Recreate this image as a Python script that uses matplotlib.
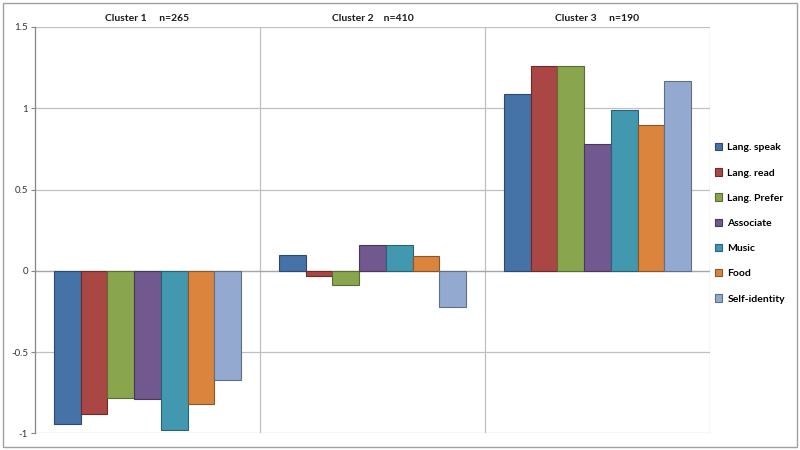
import numpy as np
import matplotlib.pyplot as plt
from matplotlib.patches import Rectangle

clusters = ['Cluster 1     n=265', 'Cluster 2    n=410', 'Cluster 3     n=190']
series = ['Lang. speak', 'Lang. read', 'Lang. Prefer', 'Associate', 'Music', 'Food', 'Self-identity']

lang_speak = [-0.94, 0.10, 1.09]
lang_read = [-0.88, -0.03, 1.26]
lang_prefer = [-0.78, -0.09, 1.26]
associate = [-0.79, 0.16, 0.78]
music = [-0.98, 0.16, 0.99]
food = [-0.82, 0.09, 0.90]
self_identity = [-0.67, -0.22, 1.17]

colors = ['#4572A7', '#AA4643', '#89A54E', '#71588F', '#4198AF', '#DB843D', '#93A9CF']
edges = ['#2c4a70', '#6e2b2a', '#5a6d32', '#48385c', '#2a6373', '#8e5526', '#5e6f88']

values = [lang_speak, lang_read, lang_prefer, associate, music, food, self_identity]

plt.rcParams['font.family'] = ['Lato', 'DejaVu Sans']

fig = plt.figure(figsize=(8, 4.5), dpi=100)
ax = fig.add_axes([0.04375, 0.037, 0.84375, 0.903])

x = np.arange(len(clusters))
group = 0.83
w = group / len(series)
for i, (name, vals) in enumerate(zip(series, values)):
    pos = x - group / 2 + w * (i + 0.5)
    ax.bar(pos, vals, width=w, color=colors[i], edgecolor=edges[i], linewidth=0.8,
           label=name, zorder=3)

ax.set_xlim(-0.5, 2.5)
ax.set_ylim(-1, 1.5)
ax.set_yticks([-1, -0.5, 0, 0.5, 1, 1.5])
ax.set_yticklabels(['-1', '-0.5', '0', '0.5', '1', '1.5'])
ax.set_xticks([0.5, 1.5, 2.5])
ax.set_xticklabels([])
ax.tick_params(axis='x', length=0)
ax.tick_params(axis='y', length=3, width=0.8, color='#868686', labelsize=7, labelcolor='#333333', pad=2)
ax.grid(True, color='#c0c0c0', linewidth=0.9, zorder=0)
ax.axhline(0, color='#a6a6a6', linewidth=0.9, zorder=2)
for s in ['top', 'right', 'bottom']:
    ax.spines[s].set_visible(False)
ax.spines['left'].set_color('#868686')
ax.spines['left'].set_linewidth(0.9)

for i, c in enumerate(clusters):
    ax.text(i, 1.555, c, ha='center', va='center', fontsize=7.5, fontweight='bold',
            color='#1a1a1a', transform=ax.transData, clip_on=False)

fig.legend(loc='upper left', bbox_to_anchor=(0.882, 0.703), frameon=False,
           handlelength=0.7, handleheight=0.7, handletextpad=0.5,
           labelspacing=1.53, prop={'weight': 'bold', 'size': 7.5})

fig.patches.append(Rectangle((0.004, 0.007), 0.992, 0.986, transform=fig.transFigure,
                             fill=False, edgecolor='#a0a0a0', linewidth=1.0))

fig.savefig('out.png', dpi=100)
